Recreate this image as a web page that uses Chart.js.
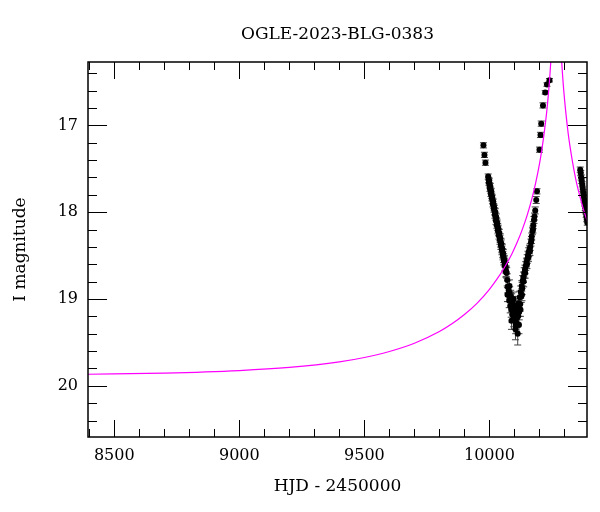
<!DOCTYPE html>
<html>
<head>
<meta charset="utf-8">
<script src="https://cdn.jsdelivr.net/npm/chart.js@4/dist/chart.umd.min.js"></script>
<style>
  html, body { margin: 0; padding: 0; background: #fff; }
  #wrap { width: 600px; height: 512px; }
</style>
</head>
<body>
<div id="wrap"><canvas id="lc" width="600" height="512"></canvas></div>
<script>
const chartTitle = "OGLE-2023-BLG-0383";

// OGLE photometry (HJD - 2450000, I mag, error)
const hjd = [
  9976, 9980, 9984, 9995, 9997, 9999, 10001, 10003, 10005, 10007,
  10009, 10011, 10013, 10015, 10017, 10019, 10021, 10023, 10025, 10027,
  10029, 10031, 10033, 10035, 10037, 10039, 10041, 10043, 10045, 10047,
  10049, 10051, 10053, 10055, 10057, 10059, 10061, 10063, 10065, 10067,
  10069, 10071, 10073, 10075, 10077, 10079, 10081, 10083, 10085, 10087,
  10089, 10091, 10093, 10095, 10097, 10099, 10101, 10103, 10105, 10107,
  10109, 10111, 10113, 10115, 10117, 10119, 10121, 10123, 10125, 10127,
  10129, 10131, 10133, 10136, 10139, 10142, 10145, 10148, 10151, 10154,
  10157, 10160, 10163, 10166, 10169, 10172, 10175, 10178, 10183, 10187,
  10190, 10200, 10204, 10207, 10214, 10223, 10230, 10240,
  10363, 10365, 10367, 10369, 10371, 10373, 10375, 10377, 10379, 10381,
  10383, 10385, 10387, 10389, 10391,
  // second-site / repeated nights
  9998, 10002, 10006, 10010, 10014, 10018, 10022, 10026, 10030, 10034,
  10038, 10042, 10046, 10050, 10054, 10058, 10062, 10066,
  10072, 10080, 10088, 10096, 10104, 10110, 10118, 10124, 10130,
  10137, 10143, 10150, 10156, 10162, 10168, 10174, 10180
];
const mag = [
  17.23, 17.34, 17.43, 17.59, 17.63, 17.64, 17.69, 17.70, 17.75, 17.76,
  17.81, 17.83, 17.87, 17.88, 17.93, 17.95, 17.99, 18.00, 18.05, 18.06,
  18.11, 18.13, 18.17, 18.19, 18.23, 18.24, 18.29, 18.30, 18.35, 18.36,
  18.41, 18.42, 18.47, 18.48, 18.53, 18.55, 18.58, 18.61, 18.64, 18.68,
  18.70, 18.78, 18.86, 18.95, 18.90, 19.02, 18.93, 19.08, 18.97, 19.12,
  19.02, 19.18, 19.05, 19.15, 19.22, 19.08, 19.25, 19.12, 19.30, 19.18,
  19.28, 19.10, 19.40, 19.20, 19.05, 19.15, 18.98, 19.06, 18.92, 18.97,
  18.85, 18.88, 18.79, 18.75, 18.70, 18.66, 18.62, 18.58, 18.54, 18.50,
  18.46, 18.43, 18.40, 18.35, 18.28, 18.22, 18.15, 18.09, 17.98, 17.86,
  17.76, 17.28, 17.11, 16.98, 16.77, 16.62, 16.53, 16.48,
  17.51, 17.55, 17.60, 17.64, 17.68, 17.73, 17.77, 17.81, 17.86, 17.90,
  17.95, 17.99, 18.03, 18.08, 18.12,
  17.66, 17.73, 17.79, 17.84, 17.91, 17.96, 18.03, 18.10, 18.15, 18.21,
  18.27, 18.32, 18.38, 18.44, 18.50, 18.56, 18.62, 18.69,
  18.95, 18.85, 19.25, 19.00, 19.35, 19.22, 19.30, 19.12, 18.95,
  18.80, 18.70, 18.60, 18.52, 18.45, 18.32, 18.20, 18.05
];
const magErr = [
  0.03, 0.03, 0.03, 0.03, 0.03, 0.03, 0.03, 0.03, 0.03, 0.03,
  0.03, 0.03, 0.03, 0.03, 0.03, 0.03, 0.04, 0.04, 0.04, 0.04,
  0.04, 0.04, 0.04, 0.04, 0.04, 0.04, 0.04, 0.05, 0.05, 0.05,
  0.05, 0.05, 0.05, 0.05, 0.05, 0.05, 0.05, 0.06, 0.06, 0.06,
  0.06, 0.07, 0.07, 0.08, 0.07, 0.08, 0.07, 0.08, 0.07, 0.09,
  0.08, 0.09, 0.08, 0.09, 0.10, 0.08, 0.10, 0.09, 0.10, 0.09,
  0.10, 0.08, 0.13, 0.09, 0.08, 0.09, 0.07, 0.08, 0.07, 0.07,
  0.06, 0.07, 0.06, 0.06, 0.06, 0.05, 0.05, 0.05, 0.05, 0.05,
  0.05, 0.05, 0.04, 0.04, 0.04, 0.04, 0.04, 0.04, 0.04, 0.04,
  0.03, 0.03, 0.03, 0.03, 0.03, 0.02, 0.02, 0.02,
  0.03, 0.03, 0.03, 0.03, 0.03, 0.03, 0.03, 0.03, 0.03, 0.03,
  0.03, 0.03, 0.03, 0.03, 0.03,
  0.03, 0.03, 0.03, 0.03, 0.03, 0.04, 0.04, 0.04, 0.04, 0.04,
  0.04, 0.05, 0.05, 0.05, 0.05, 0.05, 0.06, 0.06,
  0.08, 0.07, 0.10, 0.08, 0.12, 0.10, 0.10, 0.08, 0.07,
  0.06, 0.06, 0.05, 0.05, 0.05, 0.04, 0.04, 0.04
];

// model light curve
const modelHjd = [
  8395, 8700, 9000, 9200, 9400, 9500, 9600, 9700, 9800, 9850,
  9900, 9950, 10000, 10030, 10060, 10090, 10110, 10130, 10150, 10170,
  10185, 10200, 10210, 10220, 10230, 10240, 10247, 10255, 10267, 10279,
  10287, 10294, 10300, 10315, 10330, 10345, 10360, 10375, 10392
];
const modelMag = [
  19.867, 19.854, 19.825, 19.789, 19.725, 19.674, 19.605, 19.510, 19.375, 19.286,
  19.179, 19.050, 18.888, 18.772, 18.637, 18.478, 18.353, 18.210, 18.043, 17.842,
  17.660, 17.444, 17.269, 17.060, 16.815, 16.487, 16.180, 15.720, 14.840, 15.720,
  16.180, 16.487, 16.695, 17.098, 17.385, 17.618, 17.800, 17.959, 18.114
];

const xTicks = [8500, 9000, 9500, 10000];
const yTicks = [17, 18, 19, 20];
const xRange = [8395, 10390];
const yRange = [16.27, 20.59];

const serif = "'DejaVu Serif', 'Liberation Serif', serif";

const errorBars = {
    id: "errorBars",
    beforeDatasetDraw(chart, args) {
        if (args.index !== 1) return;
        const { ctx, chartArea, scales } = chart;
        ctx.save();
        ctx.beginPath();
        ctx.rect(chartArea.left, chartArea.top, chartArea.right - chartArea.left, chartArea.bottom - chartArea.top);
        ctx.clip();
        ctx.strokeStyle = "#444";
        ctx.lineWidth = 1;
        hjd.forEach((t, i) => {
            const x = scales.x.getPixelForValue(t);
            const y1 = scales.y.getPixelForValue(mag[i] - magErr[i]);
            const y2 = scales.y.getPixelForValue(mag[i] + magErr[i]);
            ctx.beginPath();
            ctx.moveTo(x, y1); ctx.lineTo(x, y2);
            ctx.moveTo(x - 3.5, y1); ctx.lineTo(x + 3.5, y1);
            ctx.moveTo(x - 3.5, y2); ctx.lineTo(x + 3.5, y2);
            ctx.stroke();
        });
        ctx.restore();
    }
};

const frame = {
    id: "frame",
    afterDraw(chart) {
        const { ctx, chartArea: a, scales } = chart;
        ctx.save();
        ctx.strokeStyle = "#000";
        ctx.lineWidth = 1;
        ctx.beginPath();
        // x ticks on bottom and top
        for (let v = 8400; v <= xRange[1]; v += 100) {
            if (v < xRange[0]) continue;
            const x = Math.round(scales.x.getPixelForValue(v)) + 0.5;
            const len = v % 500 === 0 ? 17 : 8;
            ctx.moveTo(x, a.bottom); ctx.lineTo(x, a.bottom - len);
            ctx.moveTo(x, a.top); ctx.lineTo(x, a.top + len);
        }
        // y ticks on left and right
        for (let k = 82; k <= 103; k++) {
            const v = k / 5;
            if (v < yRange[0] || v > yRange[1]) continue;
            const y = Math.round(scales.y.getPixelForValue(v)) + 0.5;
            const len = k % 5 === 0 ? 19 : 9;
            ctx.moveTo(a.left, y); ctx.lineTo(a.left + len, y);
            ctx.moveTo(a.right, y); ctx.lineTo(a.right - len, y);
        }
        ctx.stroke();
        ctx.lineWidth = 1.5;
        ctx.strokeRect(a.left, a.top, a.right - a.left, a.bottom - a.top);
        ctx.fillStyle = "#000";
        ctx.font = "17px " + serif;
        ctx.textAlign = "center";
        ctx.textBaseline = "middle";
        ctx.fillText(chartTitle, (a.left + a.right) / 2, 35);
        ctx.restore();
    }
};

new Chart(document.getElementById("lc"), {
    type: "scatter",
    data: {
        datasets: [{
            type: "line",
            label: "model",
            data: modelHjd.map((t, i) => ({ x: t, y: modelMag[i] })),
            borderColor: "#ff00ff",
            borderWidth: 1.2,
            pointRadius: 0,
            fill: false,
            cubicInterpolationMode: "monotone",
            order: 0
        }, {
            label: "OGLE",
            data: hjd.map((t, i) => ({ x: t, y: mag[i] })),
            backgroundColor: "#000",
            borderColor: "#000",
            borderWidth: 0,
            pointRadius: 3,
            order: 1
        }]
    },
    options: {
        responsive: false,
        animation: false,
        events: [],
        layout: { padding: { top: 62, right: 13, left: 0, bottom: 0 } },
        plugins: { legend: { display: false }, tooltip: { enabled: false } },
        scales: {
            x: {
                type: "linear",
                min: xRange[0],
                max: xRange[1],
                grid: { display: false, drawTicks: false },
                border: { display: false },
                afterBuildTicks: (s) => { s.ticks = xTicks.map(v => ({ value: v })); },
                afterFit: (s) => { s.height = 75; },
                ticks: {
                    padding: 9,
                    color: "#000",
                    font: { family: serif, size: 16 },
                    maxRotation: 0,
                    callback: (v) => String(v)
                },
                title: {
                    display: true,
                    text: "HJD - 2450000",
                    color: "#000",
                    font: { family: serif, size: 17 },
                    padding: { top: 0, bottom: 15 }
                }
            },
            y: {
                type: "linear",
                reverse: true,
                min: yRange[0],
                max: yRange[1],
                grid: { display: false, drawTicks: false },
                border: { display: false },
                afterBuildTicks: (s) => { s.ticks = yTicks.map(v => ({ value: v })); },
                afterFit: (s) => { s.width = 88; },
                ticks: {
                    padding: 10,
                    color: "#000",
                    font: { family: serif, size: 16 },
                    callback: (v) => String(v)
                },
                title: {
                    display: true,
                    text: "I magnitude",
                    color: "#000",
                    font: { family: serif, size: 17 },
                    padding: { top: 10, bottom: 0 }
                }
            }
        }
    },
    plugins: [errorBars, frame]
});
</script>
</body>
</html>
